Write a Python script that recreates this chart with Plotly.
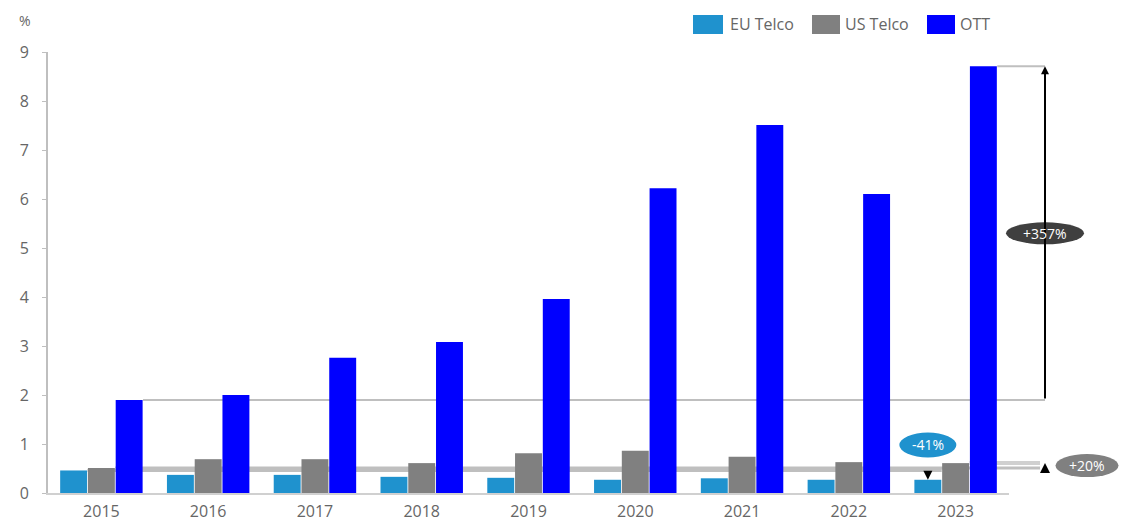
import plotly.graph_objects as go

years = ["2015", "2016", "2017", "2018", "2019", "2020", "2021", "2022", "2023"]
series_names = ["EU Telco", "US Telco", "OTT"]
eu_telco = [0.46, 0.37, 0.37, 0.33, 0.31, 0.27, 0.30, 0.27, 0.27]
us_telco = [0.51, 0.69, 0.69, 0.61, 0.81, 0.86, 0.74, 0.63, 0.61]
ott = [1.90, 2.00, 2.76, 3.08, 3.96, 6.22, 7.51, 6.10, 8.71]
y_ticks = [0, 1, 2, 3, 4, 5, 6, 7, 8, 9]
labels = {"ott": "+357%", "us": "+20%", "eu": "-41%"}

colors = ["#1F92CE", "#808080", "#0000FF"]
TXT = "#666666"
FONT = "Open Sans"

fig = go.Figure()
for name, vals, col in zip(series_names, [eu_telco, us_telco, ott], colors):
    fig.add_trace(go.Bar(x=years, y=vals, name=name, marker=dict(color=col, line=dict(width=0)),
                         showlegend=False, hoverinfo="skip"))

n = len(years)
W, H = 1121, 523
L, R, T, B = 48, 112, 52, 30
bar_w = 0.26


def cpaper(c):
    # category index -> paper x
    return (c + 0.5) / n


def pxpaper(px):
    return (px - L) / (W - L - R)


def pypaper(py):
    return (H - B - py) / (H - T - B)


right_x = pxpaper(1045)
shapes = []
grey = "#BFBFBF"
# reference line at OTT 2015 level
shapes.append(dict(type="line", xref="paper", yref="y", x0=cpaper(0 + 1.5 * bar_w), x1=right_x,
                   y0=ott[0], y1=ott[0], line=dict(color=grey, width=2), layer="below"))
# top line at OTT 2023 level
shapes.append(dict(type="line", xref="paper", yref="y", x0=cpaper(n - 1 + 1.5 * bar_w), x1=right_x,
                   y0=ott[-1], y1=ott[-1], line=dict(color=grey, width=2), layer="below"))
# US 2015 level
shapes.append(dict(type="line", xref="paper", yref="y", x0=cpaper(0.5 * bar_w), x1=pxpaper(1040),
                   y0=us_telco[0], y1=us_telco[0], line=dict(color=grey, width=3), layer="below"))
# US 2023 level
shapes.append(dict(type="line", xref="paper", yref="y", x0=cpaper(n - 1 + 0.5 * bar_w), x1=pxpaper(1040),
                   y0=us_telco[-1], y1=us_telco[-1], line=dict(color="#D0D0D0", width=4), layer="below"))
# EU 2015 level
shapes.append(dict(type="line", xref="paper", yref="y", x0=cpaper(-0.5 * bar_w), x1=cpaper(n - 1 - 0.5 * bar_w),
                   y0=eu_telco[0], y1=eu_telco[0], line=dict(color=grey, width=3), layer="below"))


def ellipse(xref, x, y, w, h, color):
    return dict(type="circle", xref=xref, yref="y", xsizemode="pixel", ysizemode="pixel",
                xanchor=x, yanchor=y, x0=-w / 2, x1=w / 2, y0=-h / 2, y1=h / 2,
                fillcolor=color, line=dict(width=0), layer="above")


ell_357_y = 5.3
ell_20_y = 0.56
ell_41_y = 0.98
eu23_x = n - 1 - bar_w
shapes.append(ellipse("paper", right_x, ell_357_y, 78, 22, "#3F3F3F"))
shapes.append(ellipse("paper", pxpaper(1087), ell_20_y, 63, 23, "#808080"))
shapes.append(ellipse("x", eu23_x, ell_41_y, 57, 25, "#1F92CE"))

# legend (drawn manually to match the large swatches)
leg_x = [(693, 723, 728), (812, 840, 843), (927, 955, 958)]
annotations = []
for (a, b, tx), name, col in zip(leg_x, series_names, colors):
    shapes.append(dict(type="rect", xref="paper", yref="paper", x0=pxpaper(a), x1=pxpaper(b),
                       y0=pypaper(34), y1=pypaper(15), fillcolor=col, line=dict(width=0)))
    annotations.append(dict(xref="paper", yref="paper", x=pxpaper(tx), y=pypaper(24.5), text=name,
                            showarrow=False, xanchor="left", yanchor="middle",
                            font=dict(family=FONT, size=16, color=TXT)))

annotations.append(dict(xref="paper", yref="paper", x=pxpaper(25), y=pypaper(20), text="%",
                        showarrow=False, xanchor="center", yanchor="middle",
                        font=dict(family=FONT, size=14, color=TXT)))

# big arrow +357%
annotations.append(dict(xref="paper", yref="y", x=right_x, y=ott[-1], axref="pixel", ax=0,
                        ayref="y", ay=ott[0], text="", showarrow=True, arrowhead=2, arrowsize=0.8,
                        arrowwidth=2, arrowcolor="#000000", standoff=0, startstandoff=0))
# small arrow +20%
annotations.append(dict(xref="paper", yref="y", x=right_x, y=us_telco[-1], axref="pixel", ax=0,
                        ayref="y", ay=us_telco[0], text="", showarrow=True, arrowhead=2,
                        arrowsize=1, arrowwidth=2, arrowcolor="#000000", standoff=0))
# arrow -41%
annotations.append(dict(xref="x", yref="y", x=eu23_x, y=eu_telco[-1], axref="pixel", ax=0,
                        ayref="y", ay=eu_telco[0], text="", showarrow=True, arrowhead=2,
                        arrowsize=1.2, arrowwidth=1.5, arrowcolor="#000000", standoff=0))

# ellipse labels
annotations.append(dict(xref="paper", yref="y", x=right_x, y=ell_357_y, text=labels["ott"], showarrow=False,
                        xanchor="center", yanchor="middle",
                        font=dict(family=FONT, size=14, color="white")))
annotations.append(dict(xref="paper", yref="y", x=pxpaper(1087), y=ell_20_y, text=labels["us"], showarrow=False,
                        xanchor="center", yanchor="middle",
                        font=dict(family=FONT, size=14, color="white")))
annotations.append(dict(xref="x", yref="y", x=eu23_x, y=ell_41_y, text=labels["eu"], showarrow=False,
                        xanchor="center", yanchor="middle",
                        font=dict(family=FONT, size=14, color="white")))

fig.update_layout(
    width=W, height=H,
    margin=dict(l=L, r=R, t=T, b=B, autoexpand=False),
    plot_bgcolor="white", paper_bgcolor="white",
    barmode="group", bargap=0.22, bargroupgap=0.03,
    shapes=shapes, annotations=annotations,
    showlegend=False, hovermode=False,
    font=dict(family=FONT, size=16, color=TXT),
)
fig.update_xaxes(type="category", range=[-0.5, n - 0.5], showline=True, linecolor="#D0D0D0", linewidth=2,
                 ticks="", showgrid=False, zeroline=False, automargin=False, ticklabelstandoff=3,
                 tickfont=dict(family=FONT, size=16, color=TXT))
fig.update_yaxes(range=[0, 9], tickvals=y_ticks, showline=True, linecolor="#BFBFBF", linewidth=2,
                 ticks="outside", ticklen=4, tickcolor="#BFBFBF", showgrid=False, zeroline=False,
                 automargin=False, ticklabelstandoff=10, tickfont=dict(family=FONT, size=16, color=TXT))

fig.write_html("out.html", config={"displayModeBar": False, "staticPlot": True},
               post_script="document.body.style.margin='0';document.body.style.overflow='hidden';")
